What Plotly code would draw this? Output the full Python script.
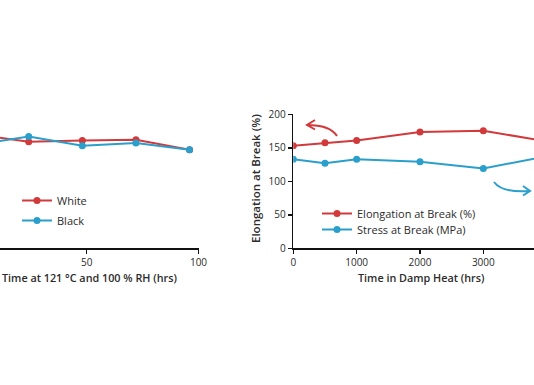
import plotly.graph_objects as go

W, H = 534, 385

# Left chart: Time at 121 °C and 100 % RH
left_hours = [0, 24, 48, 72, 96]
left_white = [170, 159, 161, 162, 147]
left_black = [154, 167, 153, 157, 147]

# Right chart: Time in Damp Heat
right_hours = [0, 500, 1000, 2000, 3000, 4000]
elongation = [153, 157.5, 161, 173.5, 175.5, 159.5]
stress = [133, 127, 133, 129, 119, 137.5]

left_xticks = [0, 50, 100]
right_xticks = [0, 1000, 2000, 3000, 4000]
right_yticks = [0, 50, 100, 150, 200]

RED = "#d2393b"
BLUE = "#2b9fcc"
FONT = "Open Sans"
TXT = "#2b2b2b"

def px(x):
    return x / W

def py(y):
    return 1 - y / H

fig = go.Figure()

fig.add_trace(go.Scatter(x=left_hours, y=left_white, name="White", mode="lines+markers",
                         line=dict(color=RED, width=2), marker=dict(size=7, color=RED),
                         xaxis="x", yaxis="y", legend="legend"))
fig.add_trace(go.Scatter(x=left_hours, y=left_black, name="Black", mode="lines+markers",
                         line=dict(color=BLUE, width=2), marker=dict(size=7, color=BLUE),
                         xaxis="x", yaxis="y", legend="legend2"))
fig.add_trace(go.Scatter(x=right_hours, y=elongation, name="Elongation at Break (%)", mode="lines+markers",
                         line=dict(color=RED, width=2), marker=dict(size=7, color=RED),
                         xaxis="x2", yaxis="y2", legend="legend3"))
fig.add_trace(go.Scatter(x=right_hours, y=stress, name="Stress at Break (MPa)", mode="lines+markers",
                         line=dict(color=BLUE, width=2), marker=dict(size=7, color=BLUE),
                         xaxis="x2", yaxis="y3", legend="legend4"))

ydom = [py(248.3), py(114.3)]
axis_common = dict(showgrid=False, zeroline=False, linecolor="#111", linewidth=1.6,
                   ticks="outside", ticklen=4, tickwidth=1.4, tickcolor="#111",
                   automargin=False,
                   tickfont=dict(family=FONT, size=10, color=TXT))

def leg(x, yc):
    return dict(x=px(x), y=py(yc - 14), xanchor="left", yanchor="top", itemwidth=30,
                bgcolor="rgba(0,0,0,0)", borderwidth=0,
                font=dict(family=FONT, size=11, color=TXT))

fig.update_layout(
    width=W, height=H, margin=dict(l=0, r=0, t=0, b=0, pad=0, autoexpand=False),
    paper_bgcolor="white", plot_bgcolor="white",
    xaxis=dict(domain=[0, px(198.5)], range=[11.15, 100], tickvals=left_xticks,
               showline=True, anchor="y", **axis_common),
    yaxis=dict(domain=ydom, range=[0, 200], visible=False, anchor="x"),
    xaxis2=dict(domain=[px(293.3), 1], range=[0, 3800], tickvals=right_xticks,
                showline=True, anchor="y2", **axis_common),
    yaxis2=dict(domain=ydom, range=[0, 200], tickvals=right_yticks, showline=True,
                anchor="x2", **axis_common),
    yaxis3=dict(range=[0, 200], overlaying="y2", visible=False, anchor="x2"),
    legend=leg(17, 200),
    legend2=leg(17, 220),
    legend3=leg(317, 213),
    legend4=leg(317, 229),
    showlegend=True,
)

xtitle_font = dict(family=FONT, size=10.8, color=TXT, weight=600)
ytitle_font = dict(family=FONT, size=11.5, color=TXT, weight=600)
fig.add_annotation(text="Time at 121 °C and 100 % RH (hrs)", x=px(89), y=py(277), xref="paper", yref="paper",
                   showarrow=False, font=xtitle_font, xanchor="center", yanchor="middle")
fig.add_annotation(text="Time in Damp Heat (hrs)", x=px(421), y=py(277), xref="paper", yref="paper",
                   showarrow=False, font=xtitle_font, xanchor="center", yanchor="middle")
fig.add_annotation(text="Elongation at Break (%)", x=px(255), y=py(179), xref="paper", yref="paper",
                   showarrow=False, font=ytitle_font, textangle=-90, xanchor="center", yanchor="middle")

# curved arrows pointing to each series' axis
red_path = (f"M {px(337)},{py(136)} Q {px(330)},{py(125)} {px(307)},{py(125)} "
            f"M {px(315)},{py(120)} L {px(307)},{py(125)} L {px(315)},{py(129.5)}")
fig.add_shape(type="path", path=red_path, xref="paper", yref="paper",
              line=dict(color=RED, width=2))
blue_path = (f"M {px(494)},{py(182)} Q {px(502)},{py(193)} {px(530)},{py(191)} "
             f"M {px(523)},{py(186)} L {px(530)},{py(191)} L {px(523)},{py(195.5)}")
fig.add_shape(type="path", path=blue_path, xref="paper", yref="paper",
              line=dict(color=BLUE, width=2))

fig.write_html("out.html", config={"displayModeBar": False, "staticPlot": True},
               post_script="document.body.style.margin='0';document.body.style.padding='0';")
